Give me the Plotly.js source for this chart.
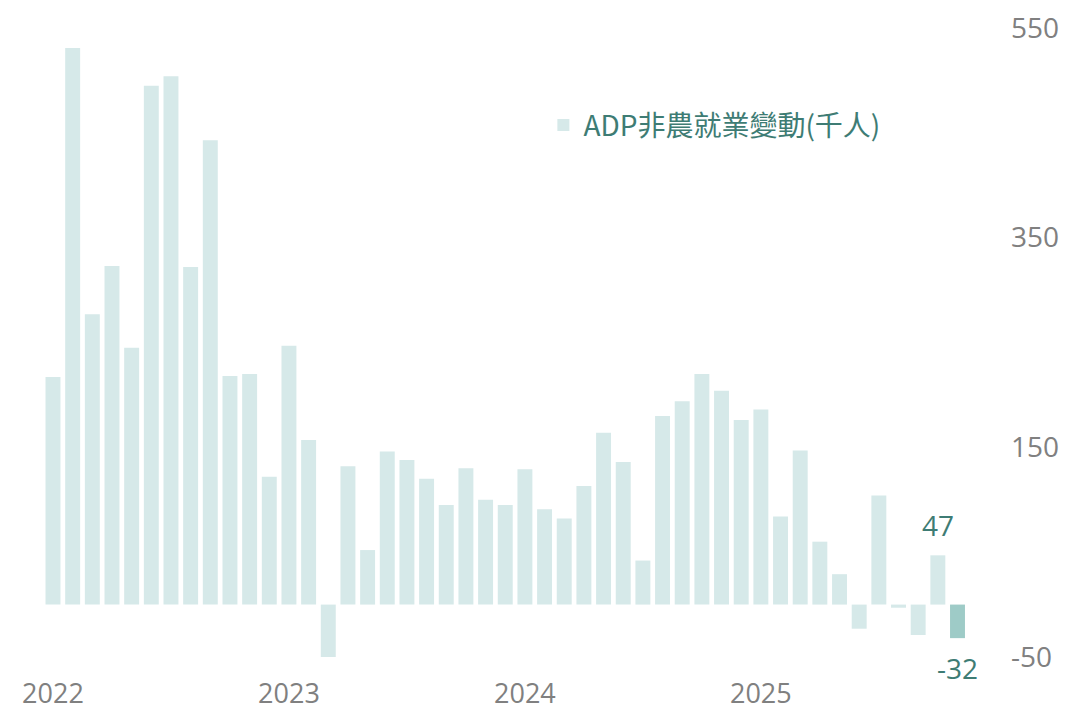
<!DOCTYPE html>
<html>
<head>
<meta charset="utf-8">
<script src="https://cdn.plot.ly/plotly-3.0.1.min.js"></script>
<style>html,body{margin:0;padding:0;background:#fff;}#chart{width:1077px;height:718px;}</style>
</head>
<body>
<div id="chart"></div>
<script>
const months = [
  "2022-01","2022-02","2022-03","2022-04","2022-05","2022-06","2022-07","2022-08","2022-09","2022-10","2022-11","2022-12",
  "2023-01","2023-02","2023-03","2023-04","2023-05","2023-06","2023-07","2023-08","2023-09","2023-10","2023-11","2023-12",
  "2024-01","2024-02","2024-03","2024-04","2024-05","2024-06","2024-07","2024-08","2024-09","2024-10","2024-11","2024-12",
  "2025-01","2025-02","2025-03","2025-04","2025-05","2025-06","2025-07","2025-08","2025-09","2025-10","2025-11"
];
const adpChange = [
  217, 531, 277, 323, 245, 495, 504, 322, 443, 218, 220, 122,
  247, 157, -50, 132, 52, 146, 138, 120, 95, 130, 100, 95,
  129, 91, 82, 113, 164, 136, 42, 180, 194, 220, 204, 176,
  186, 84, 147, 60, 29, -23, 104, -3, -29, 47, -32
];
const seriesName = "ADP非農就業變動(千人)";
const yearTickVals = ["2022-01","2023-01","2024-01","2025-01"];
const yearTickText = ["2022","2023","2024","2025"];
const yTickVals = [550, 350, 150, -50];
const yTickText = ["550", "350", "150", "-50"];
const labelledMonths = ["2025-10","2025-11"];

const lightColor = "#d6e9e9";
const darkColor = "#9ecbc7";
const teal = "#3e7c74";
const grey = "#808080";

const barColors = months.map((m, i) => i === months.length - 1 ? darkColor : lightColor);

const annotations = labelledMonths.map(m => {
  const v = adpChange[months.indexOf(m)];
  return {
    x: m, y: v, xref: "x", yref: "y",
    text: String(v), showarrow: false,
    yanchor: v >= 0 ? "bottom" : "top",
    yshift: v >= 0 ? 9 : -9,
    font: {family: "Open Sans, Noto Sans", size: 28, color: teal}
  };
});

const trace = {
  type: "bar",
  x: months,
  y: adpChange,
  name: seriesName,
  marker: {color: barColors, line: {width: 0}},
  showlegend: true,
  hoverinfo: "x+y"
};

const layout = {
  width: 1077, height: 718,
  margin: {l: 0, r: 67, t: 0, b: 48, pad: 0},
  paper_bgcolor: "#ffffff",
  plot_bgcolor: "#ffffff",
  bargap: 0.24,
  showlegend: true,
  legend: {
    x: 0.538, y: 0.813, xanchor: "left", yanchor: "middle",
    font: {family: "Noto Sans CJK TC", size: 28, color: teal},
    bgcolor: "rgba(0,0,0,0)"
  },
  xaxis: {
    type: "category",
    range: [-2.695, 48.67],
    tickvals: yearTickVals,
    ticktext: yearTickText,
    showgrid: false, zeroline: false, showline: false, ticks: "",
    ticklabelstandoff: 5,
    tickfont: {family: "Open Sans, Noto Sans", size: 27, color: grey}
  },
  yaxis: {
    side: "right",
    range: [-62.4, 576.7],
    tickvals: yTickVals,
    ticktext: yTickText,
    showgrid: false, zeroline: false, showline: false, ticks: "",
    tickfont: {family: "Open Sans, Noto Sans", size: 28, color: grey}
  },
  annotations: annotations
};

Plotly.newPlot("chart", [trace], layout, {displayModeBar: false, staticPlot: true});
</script>
</body>
</html>
